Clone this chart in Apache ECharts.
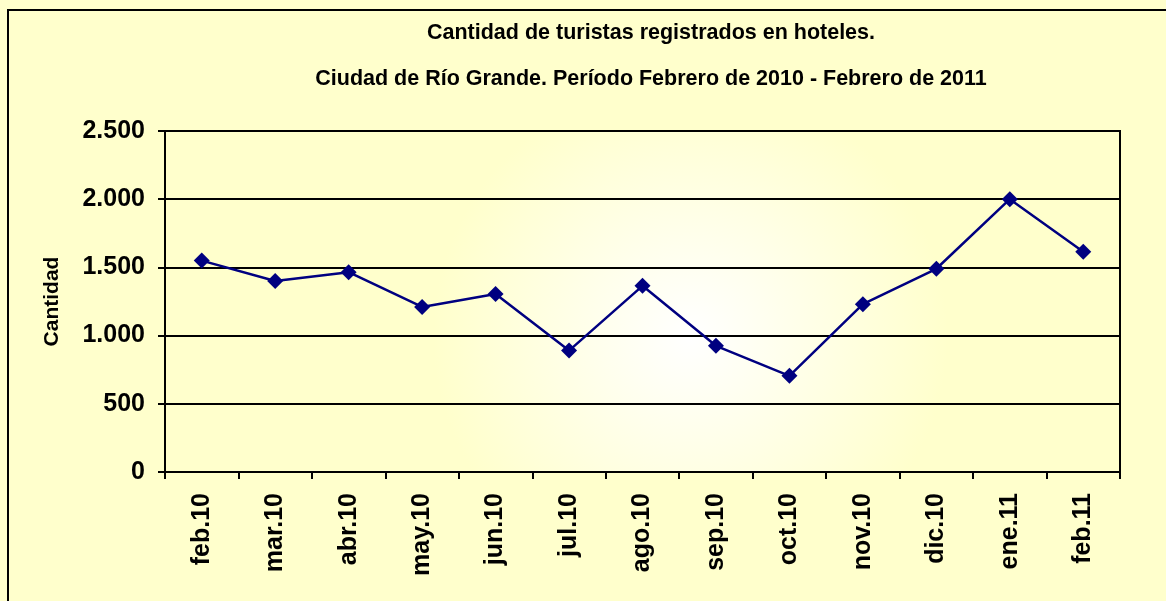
<!DOCTYPE html>
<html>
<head>
<meta charset="utf-8">
<script src="https://cdn.jsdelivr.net/npm/echarts@6/dist/echarts.min.js"></script>
<style>
  html, body { margin: 0; padding: 0; background: #ffffcc; }
  #chart { width: 1166px; height: 601px; }
</style>
</head>
<body>
<div id="chart"></div>
<script>
  // meses del período
  const months = ['feb.10', 'mar.10', 'abr.10', 'may.10', 'jun.10', 'jul.10', 'ago.10',
                  'sep.10', 'oct.10', 'nov.10', 'dic.10', 'ene.11', 'feb.11'];
  // turistas registrados
  const tourists = [1550, 1400, 1465, 1210, 1305, 890, 1365, 925, 705, 1230, 1490, 2000, 1615];

  const titleLine1 = 'Cantidad de turistas registrados en hoteles.';
  const titleLine2 = 'Ciudad de Río Grande. Período Febrero de 2010 - Febrero de 2011';

  const font = 'Liberation Sans, Arial, sans-serif';

  const chart = echarts.init(document.getElementById('chart'));

  const option = {
    backgroundColor: '#ffffcc',
    animation: false,
    title: [
      {
        text: titleLine1,
        left: 646, top: 17, textAlign: 'center',
        textStyle: { fontFamily: font, fontSize: 21.5, fontWeight: 'bold', color: '#000' }
      },
      {
        text: titleLine2,
        left: 646, top: 63, textAlign: 'center',
        textStyle: { fontFamily: font, fontSize: 21.5, fontWeight: 'bold', color: '#000' }
      }
    ],
    graphic: [
      {
        type: 'rect', z: -1, silent: true,
        shape: { x: 8, y: 10, width: 1300, height: 800 },
        style: { fill: null, stroke: '#000', lineWidth: 2 }
      }
    ],
    grid: {
      left: 165, right: 46, top: 131, bottom: 129,
      show: true,
      borderColor: '#000',
      borderWidth: 2,
      backgroundColor: new echarts.graphic.RadialGradient(0.55, 0.6, 0.75, [
        { offset: 0, color: '#ffffff' },
        { offset: 1, color: '#ffffcc' }
      ])
    },
    xAxis: {
      type: 'category',
      data: months,
      boundaryGap: true,
      axisLine: { lineStyle: { color: '#000', width: 2 } },
      axisTick: { show: true, length: 7, lineStyle: { color: '#000', width: 2 } },
      axisLabel: {
        rotate: 90, margin: 21,
        fontFamily: font, fontSize: 25, fontWeight: 'bold', color: '#000'
      }
    },
    yAxis: {
      type: 'value',
      min: 0, max: 2500, interval: 500,
      name: 'Cantidad',
      nameLocation: 'middle',
      nameGap: 102,
      nameRotate: 90,
      nameTextStyle: { fontFamily: font, fontSize: 21, fontWeight: 'bold', color: '#000' },
      axisLine: { show: true, lineStyle: { color: '#000', width: 2 } },
      axisTick: { show: true, length: 7, lineStyle: { color: '#000', width: 2 } },
      splitLine: { show: true, lineStyle: { color: '#000', width: 2 } },
      axisLabel: {
        margin: 20,
        fontFamily: font, fontSize: 25, fontWeight: 'bold', color: '#000',
        formatter: function (v) {
          return String(v).replace(/\B(?=(\d{3})+(?!\d))/g, '.');
        }
      }
    },
    series: [
      {
        name: 'Turistas',
        type: 'line',
        data: tourists,
        symbol: 'diamond',
        symbolSize: 16,
        itemStyle: { color: '#000080' },
        lineStyle: { color: '#000080', width: 2.5 }
      }
    ]
  };

  chart.setOption(option);
</script>
</body>
</html>
